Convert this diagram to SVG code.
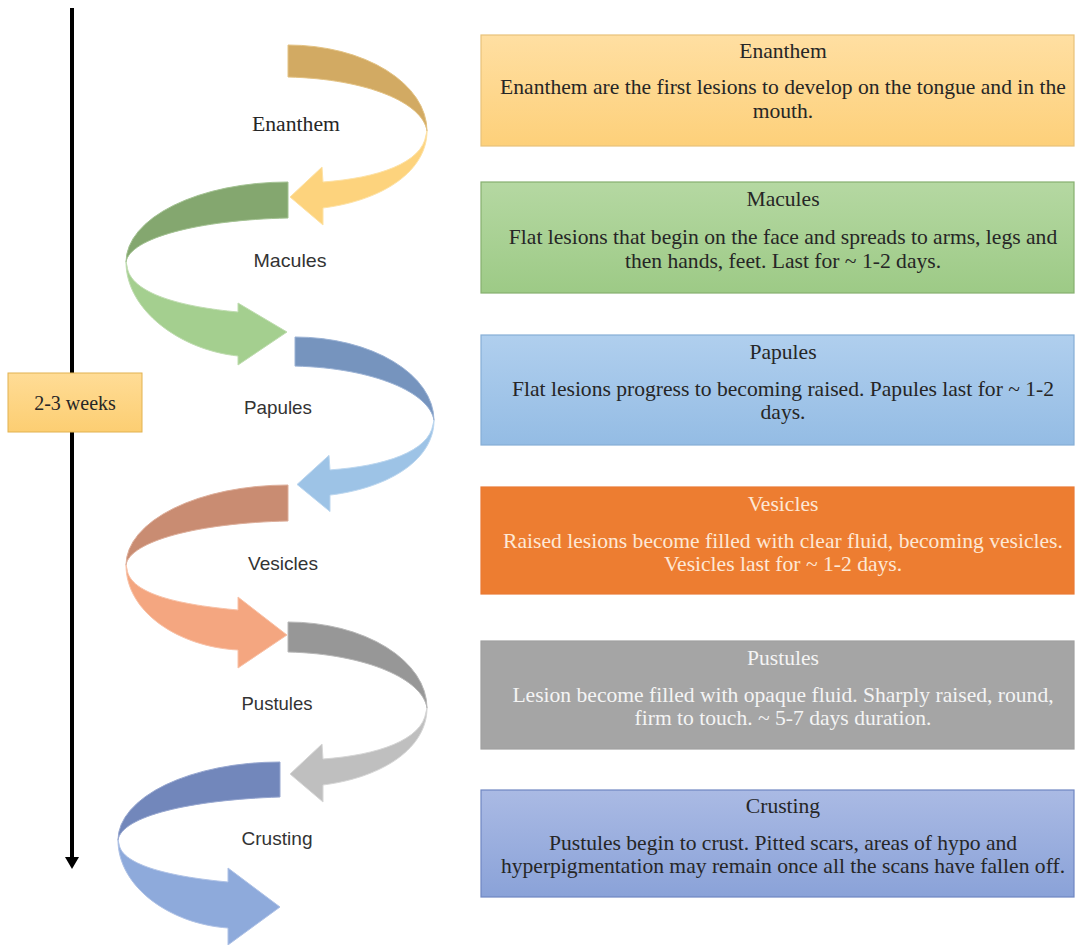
<svg xmlns="http://www.w3.org/2000/svg" width="1076" height="945" viewBox="0 0 1076 945">
<style>
.box{stroke-width:1.2}
.ttl{font-family:"Liberation Serif","Times New Roman",serif;font-size:20px;text-anchor:middle}
.bd{font-family:"Liberation Serif","Times New Roman",serif;font-size:20px;text-anchor:middle}
.lbl{font-family:"Liberation Sans",Arial,sans-serif;font-size:19px;fill:#333;text-anchor:middle}
.dark{fill:#262626}
.lite1{fill:#fde8d6}
.lite2{fill:#f4f4f4}
.rib{stroke-width:1;stroke-linejoin:round}
</style>
<defs>
<linearGradient id="gY" x1="0" y1="0" x2="0" y2="1"><stop offset="0" stop-color="#ffdfa2"/><stop offset="1" stop-color="#fdd07a"/></linearGradient>
<linearGradient id="gG" x1="0" y1="0" x2="0" y2="1"><stop offset="0" stop-color="#b5d8a2"/><stop offset="1" stop-color="#9dca86"/></linearGradient>
<linearGradient id="gB" x1="0" y1="0" x2="0" y2="1"><stop offset="0" stop-color="#b0cfee"/><stop offset="1" stop-color="#94bce4"/></linearGradient>
<linearGradient id="gC" x1="0" y1="0" x2="0" y2="1"><stop offset="0" stop-color="#aabae4"/><stop offset="1" stop-color="#8aa2d8"/></linearGradient>
<linearGradient id="gW" x1="0" y1="0" x2="0" y2="1"><stop offset="0" stop-color="#ffdc96"/><stop offset="1" stop-color="#fcce72"/></linearGradient>
</defs>

<g id="timeline">
<line x1="72" y1="8" x2="72" y2="860" stroke="#000" stroke-width="4"/>
<polygon points="65,857 79,857 72,869" fill="#000"/>
</g>
<g id="duration">
<rect x="8" y="373" width="134" height="59" fill="url(#gW)" stroke="#e2b251" stroke-width="1"/>
<text x="75" y="410" class="ttl dark">2-3 weeks</text>
</g>

<g id="connectors">
<g id="arrow-enanthem" transform="translate(288,45)">
<path class="rib" d="M0,0 A139 86 0 0 1 139,86 C135,58 80,34 0,32 Z" fill="#d2aa63" stroke="#e3c283"/>
<path class="rib" d="M139,86 C139,125 97,155 35,163 L35,180 L2,152 L34,122 L35,137 C90,133 134,118 138,90 Z" fill="#fdd37d" stroke="#fde2a6"/>
</g>
<g id="arrow-macules" transform="translate(288,182)">
<path class="rib" d="M0,0 A162 80 0 0 0 -162,80 C-158,56 -90,38 0,36 Z" fill="#84a76f" stroke="#a3c292"/>
<path class="rib" d="M-162,80 C-162,128 -108,168 -50,174 L-50,183 L-1,150 L-50,121 L-50,130 C-105,125 -158,112 -161,84 Z" fill="#a4cf8f" stroke="#bfdcb0"/>
</g>
<g id="arrow-papules" transform="translate(295,337) scale(1,0.97)">
<path class="rib" d="M0,0 A139 86 0 0 1 139,86 C135,58 80,32 0,30 Z" fill="#7694be" stroke="#9ab2d4"/>
<path class="rib" d="M139,86 C139,125 97,155 35,163 L35,180 L2,152 L34,122 L35,137 C90,133 134,118 138,90 Z" fill="#9dc3e6" stroke="#bcd6ef"/>
</g>
<g id="arrow-vesicles" transform="translate(288,485)">
<path class="rib" d="M0,0 A162 80 0 0 0 -162,80 C-158,56 -90,38 0,36 Z" fill="#c98c72" stroke="#ddae9a"/>
<path class="rib" d="M-162,80 C-162,128 -108,162 -50,165 L-50,183 L-1,150 L-50,112 L-50,125 C-105,120 -158,110 -161,84 Z" fill="#f4a680" stroke="#f8c2a8"/>
</g>
<g id="arrow-pustules" transform="translate(288,622)">
<path class="rib" d="M0,0 A139 86 0 0 1 139,86 C135,58 80,32 0,30 Z" fill="#979797" stroke="#b8b8b8"/>
<path class="rib" d="M139,86 C139,125 97,155 35,163 L35,180 L2,152 L34,122 L35,137 C90,133 134,118 138,90 Z" fill="#bfbfbf" stroke="#d6d6d6"/>
</g>
<g id="arrow-crusting" transform="translate(280,762)">
<path class="rib" d="M0,0 A162 78 0 0 0 -162,78 C-158,54 -90,38 0,35 Z" fill="#7287bb" stroke="#97a7d0"/>
<path class="rib" d="M-162,78 C-162,125 -110,162 -52,166 L-52,183 L0,145 L-52,106 L-52,120 C-106,115 -158,104 -161,82 Z" fill="#8eaadb" stroke="#afc2e6"/>
</g>
</g>

<g id="label-enanthem"><text x="296" y="131" class="ttl dark" font-size="21" textLength="88" lengthAdjust="spacingAndGlyphs">Enanthem</text></g>
<g id="label-macules"><text x="290" y="267" class="lbl" textLength="73" lengthAdjust="spacingAndGlyphs">Macules</text></g>
<g id="label-papules"><text x="278" y="414" class="lbl" textLength="68" lengthAdjust="spacingAndGlyphs">Papules</text></g>
<g id="label-vesicles"><text x="283" y="570" class="lbl" textLength="70" lengthAdjust="spacingAndGlyphs">Vesicles</text></g>
<g id="label-pustules"><text x="277" y="710" class="lbl" textLength="71" lengthAdjust="spacingAndGlyphs">Pustules</text></g>
<g id="label-crusting"><text x="277" y="845" class="lbl" textLength="71" lengthAdjust="spacingAndGlyphs">Crusting</text></g>

<g id="box-enanthem">
<rect class="box" x="481" y="35" width="593" height="111" fill="url(#gY)" stroke="#e8c27a"/>
<g transform="translate(783,0) scale(1.08,1) translate(-783,0)">
<text class="ttl dark" x="783" y="58">Enanthem</text>
<text class="bd dark" x="783" y="94">Enanthem are the first lesions to develop on the tongue and in the</text>
<text class="bd dark" x="783" y="118">mouth.</text>
</g>
</g>
<g id="box-macules">
<rect class="box" x="481" y="182" width="593" height="111" fill="url(#gG)" stroke="#86b06f"/>
<g transform="translate(783,0) scale(1.08,1) translate(-783,0)">
<text class="ttl dark" x="783" y="206">Macules</text>
<text class="bd dark" x="783" y="244">Flat lesions that begin on the face and spreads to arms, legs and</text>
<text class="bd dark" x="783" y="268">then hands, feet. Last for ~ 1-2 days.</text>
</g>
</g>
<g id="box-papules">
<rect class="box" x="481" y="335" width="593" height="110" fill="url(#gB)" stroke="#86aed6"/>
<g transform="translate(783,0) scale(1.08,1) translate(-783,0)">
<text class="ttl dark" x="783" y="359">Papules</text>
<text class="bd dark" x="783" y="396">Flat lesions progress to becoming raised. Papules last for ~ 1-2</text>
<text class="bd dark" x="783" y="419">days.</text>
</g>
</g>
<g id="box-vesicles">
<rect class="box" x="481" y="487" width="593" height="107" fill="#ed7d31" stroke="#e97a35"/>
<g transform="translate(783,0) scale(1.08,1) translate(-783,0)">
<text class="ttl lite1" x="783" y="511">Vesicles</text>
<text class="bd lite1" x="783" y="548">Raised lesions become filled with clear fluid, becoming vesicles.</text>
<text class="bd lite1" x="783" y="571">Vesicles last for ~ 1-2 days.</text>
</g>
</g>
<g id="box-pustules">
<rect class="box" x="481" y="641" width="593" height="108" fill="#a5a5a5" stroke="#a0a0a0"/>
<g transform="translate(783,0) scale(1.08,1) translate(-783,0)">
<text class="ttl lite2" x="783" y="665">Pustules</text>
<text class="bd lite2" x="783" y="702">Lesion become filled with opaque fluid. Sharply raised, round,</text>
<text class="bd lite2" x="783" y="725">firm to touch. ~ 5-7 days duration.</text>
</g>
</g>
<g id="box-crusting">
<rect class="box" x="481" y="790" width="593" height="107" fill="url(#gC)" stroke="#6f86c2"/>
<g transform="translate(783,0) scale(1.08,1) translate(-783,0)">
<text class="ttl dark" x="783" y="813">Crusting</text>
<text class="bd dark" x="783" y="850">Pustules begin to crust. Pitted scars, areas of hypo and</text>
<text class="bd dark" x="783" y="873">hyperpigmentation may remain once all the scans have fallen off.</text>
</g>
</g>
</svg>
